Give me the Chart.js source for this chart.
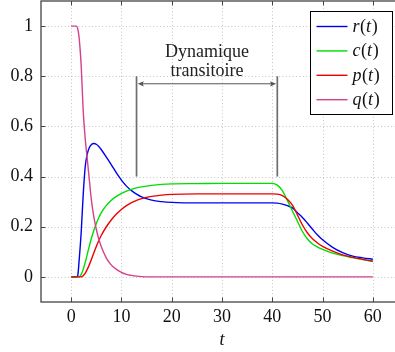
<!DOCTYPE html>
<html><head><meta charset="utf-8">
<script src="https://cdn.jsdelivr.net/npm/chart.js@4"></script>
<style>
html,body{margin:0;padding:0;background:#fff;overflow:hidden;}
#wrap{width:395px;height:352px;overflow:hidden;position:relative;}
canvas{display:block;}
</style></head><body>
<div id="wrap"><canvas id="c" width="412" height="352" style="width:412px;height:352px"></canvas></div>
<script>
// ---- data ----
const tValues = [0, 1, 1.3, 1.6, 2, 2.4, 2.8, 3.2, 3.6, 4, 4.5, 5, 5.5, 6, 7, 8, 9, 10, 11, 12, 13, 14, 16, 18, 20, 25, 30, 35, 40, 41, 42, 43, 44, 45, 46, 47, 48, 49, 50, 52, 54, 56, 58, 60];
const rValues = [0, 0, 0.005, 0.07, 0.18, 0.33, 0.44, 0.49, 0.515, 0.527, 0.532, 0.529, 0.52, 0.507, 0.478, 0.447, 0.415, 0.386, 0.362, 0.344, 0.33, 0.319, 0.306, 0.3, 0.297, 0.295, 0.295, 0.295, 0.295, 0.294, 0.29, 0.284, 0.275, 0.256, 0.237, 0.214, 0.19, 0.167, 0.148, 0.118, 0.097, 0.083, 0.076, 0.0705];
const cValues = [0, 0, 0, 0, 0.01, 0.03, 0.058, 0.09, 0.122, 0.152, 0.185, 0.213, 0.237, 0.256, 0.285, 0.306, 0.321, 0.333, 0.342, 0.349, 0.355, 0.359, 0.365, 0.369, 0.371, 0.372, 0.373, 0.373, 0.373, 0.366, 0.344, 0.305, 0.263, 0.222, 0.181, 0.151, 0.131, 0.119, 0.11, 0.095, 0.085, 0.077, 0.069, 0.0625];
const pValues = [0, 0, 0, 0, 0, 0.005, 0.015, 0.03, 0.048, 0.068, 0.095, 0.121, 0.145, 0.166, 0.2, 0.228, 0.251, 0.269, 0.284, 0.296, 0.305, 0.312, 0.321, 0.326, 0.329, 0.331, 0.331, 0.331, 0.331, 0.33, 0.324, 0.31, 0.286, 0.247, 0.207, 0.175, 0.152, 0.135, 0.122, 0.103, 0.088, 0.078, 0.07, 0.0625];
const qValues = [1, 1, 0.99, 0.95, 0.84, 0.66, 0.55, 0.47, 0.39, 0.31, 0.24, 0.19, 0.15, 0.12, 0.075, 0.047, 0.03, 0.018, 0.01, 0.006, 0.003, 0.001, 0, 0, 0, 0, 0, 0, 0, 0, 0, 0, 0, 0, 0, 0, 0, 0, 0, 0, 0, 0, 0, 0];
const seriesLabels = ['r(t)', 'c(t)', 'p(t)', 'q(t)'];
const xTicks = [0, 10, 20, 30, 40, 50, 60];
const yTicks = [0, 0.2, 0.4, 0.6, 0.8, 1];
const yTickLabels = ['0', '0.2', '0.4', '0.6', '0.8', '1'];
const xTitle = 't';
const transitionBounds = [13, 41];
const markerRange = [0.4, 0.8];
const arrowLevel = 0.77;
const annotationLines = ['Dynamique', 'transitoire'];

// ---- style ----
const colors = ['#0000f0', '#00dd00', '#ee0000', '#d6408c'];
const serif = '"Liberation Serif", "DejaVu Serif", serif';
const frameColor = '#444444';

function series(vals) { return tValues.map((t, i) => ({x: t, y: vals[i]})); }
const allValues = [rValues, cValues, pValues, qValues];

function drawMath(ctx, text, x, y) {
  for (const ch of text) {
    const italic = /[a-zA-Z]/.test(ch);
    ctx.font = (italic ? 'italic ' : '') + '18px ' + serif;
    ctx.fillText(ch, x, y);
    x += ctx.measureText(ch).width + (italic ? 0.6 : 0);
  }
}

const pgfPlugin = {
  id: 'pgf',
  beforeDatasetsDraw(chart) {
    const {ctx, chartArea: a, scales: {x, y}} = chart;
    ctx.save();
    ctx.strokeStyle = '#bcbcbc'; ctx.lineWidth = 0.9; ctx.setLineDash([1, 2.4]);
    xTicks.forEach(v => {
      const px = Math.round(x.getPixelForValue(v)) + 0.5;
      ctx.beginPath(); ctx.moveTo(px, a.top); ctx.lineTo(px, a.bottom); ctx.stroke();
    });
    yTicks.forEach(v => {
      const py = Math.round(y.getPixelForValue(v)) + 0.5;
      ctx.beginPath(); ctx.moveTo(a.left, py); ctx.lineTo(a.right, py); ctx.stroke();
    });
    ctx.setLineDash([]);
    ctx.strokeStyle = '#6e6e6e'; ctx.lineWidth = 1.7;
    const yb = y.getPixelForValue(markerRange[0]), yt = y.getPixelForValue(markerRange[1]);
    const xs = transitionBounds.map(v => x.getPixelForValue(v));
    xs.forEach(px => { ctx.beginPath(); ctx.moveTo(px, yb); ctx.lineTo(px, yt); ctx.stroke(); });
    const ya = y.getPixelForValue(arrowLevel);
    ctx.strokeStyle = '#555'; ctx.fillStyle = '#555'; ctx.lineWidth = 1;
    const x1 = xs[0] + 1.2, x2 = xs[1] - 1.2;
    ctx.beginPath(); ctx.moveTo(x1 + 4, ya); ctx.lineTo(x2 - 4, ya); ctx.stroke();
    ctx.beginPath(); ctx.moveTo(x1, ya); ctx.lineTo(x1 + 6, ya - 2.6); ctx.lineTo(x1 + 5, ya); ctx.lineTo(x1 + 6, ya + 2.6); ctx.closePath(); ctx.fill();
    ctx.beginPath(); ctx.moveTo(x2, ya); ctx.lineTo(x2 - 6, ya - 2.6); ctx.lineTo(x2 - 5, ya); ctx.lineTo(x2 - 6, ya + 2.6); ctx.closePath(); ctx.fill();
    ctx.fillStyle = '#222'; ctx.font = '18px ' + serif; ctx.textAlign = 'center'; ctx.textBaseline = 'alphabetic';
    const cx = (xs[0] + xs[1]) / 2;
    ctx.fillText(annotationLines[0], cx, yt - 19);
    ctx.fillText(annotationLines[1], cx, yt - 0.5);
    ctx.restore();
  },
  afterDatasetsDraw(chart) {
    const {ctx, chartArea: a, scales: {x, y}} = chart;
    ctx.save();
    ctx.strokeStyle = frameColor; ctx.lineWidth = 1.3;
    ctx.strokeRect(a.left, a.top, a.right - a.left, a.bottom - a.top);
    ctx.lineWidth = 1;
    xTicks.forEach(v => {
      const px = Math.round(x.getPixelForValue(v)) + 0.5;
      ctx.beginPath(); ctx.moveTo(px, a.bottom); ctx.lineTo(px, a.bottom - 4.5); ctx.stroke();
      ctx.beginPath(); ctx.moveTo(px, a.top); ctx.lineTo(px, a.top + 4.5); ctx.stroke();
    });
    yTicks.forEach(v => {
      const py = Math.round(y.getPixelForValue(v)) + 0.5;
      ctx.beginPath(); ctx.moveTo(a.left, py); ctx.lineTo(a.left + 4.5, py); ctx.stroke();
      ctx.beginPath(); ctx.moveTo(a.right, py); ctx.lineTo(a.right - 4.5, py); ctx.stroke();
    });
    const lx = a.right - 92.5, ly = a.top + 10.5, lw = 82, lh = 103;
    ctx.fillStyle = '#fff'; ctx.fillRect(lx, ly, lw, lh);
    ctx.strokeStyle = '#000'; ctx.lineWidth = 1; ctx.strokeRect(lx, ly, lw, lh);
    ctx.textAlign = 'left'; ctx.textBaseline = 'alphabetic';
    chart.data.datasets.forEach((ds, i) => {
      const yy = ly + 15 + i * 24.4;
      ctx.strokeStyle = ds.borderColor; ctx.lineWidth = ds.borderWidth;
      ctx.beginPath(); ctx.moveTo(lx + 6, yy); ctx.lineTo(lx + 37, yy); ctx.stroke();
      ctx.fillStyle = '#111';
      drawMath(ctx, ds.label, lx + 42, yy + 5.5);
    });
    ctx.restore();
  }
};

function build() {
  new Chart(document.getElementById('c'), {
    type: 'line',
    data: {
      datasets: seriesLabels.map((lab, i) => ({
        label: lab,
        data: series(allValues[i]),
        borderColor: colors[i],
        borderWidth: 1.4,
        pointRadius: 0,
        fill: false,
        cubicInterpolationMode: 'monotone',
        order: 4 - i
      }))
    },
    options: {
      responsive: false,
      animation: false,
      events: [],
      layout: {padding: {top: 1, right: 9, left: 0, bottom: 0}},
      plugins: {legend: {display: false}, tooltip: {enabled: false}},
      scales: {
        x: {
          type: 'linear', min: -6, max: 66,
          afterBuildTicks: s => { s.ticks = xTicks.map(v => ({value: v})); },
          afterFit: s => { s.height = 50; s.paddingLeft = 0; s.paddingRight = 0; },
          grid: {display: false, drawTicks: false},
          border: {display: false},
          ticks: {padding: 4, color: '#111', font: {family: serif, size: 18}, maxRotation: 0},
          title: {display: true, text: xTitle, color: '#111', font: {family: serif, size: 18, style: 'italic', lineHeight: 1.2}, padding: {top: 0, bottom: 1}}
        },
        y: {
          type: 'linear', min: -0.1, max: 1.1,
          afterBuildTicks: s => { s.ticks = yTicks.map(v => ({value: v})); },
          afterFit: s => { s.width = 41; s.paddingTop = 0; s.paddingBottom = 0; },
          grid: {display: false, drawTicks: false},
          border: {display: false},
          ticks: {padding: 8, color: '#111', font: {family: serif, size: 18},
            callback: v => { const k = yTicks.indexOf(v); return k >= 0 ? yTickLabels[k] : ''; }}
        }
      }
    },
    plugins: [pgfPlugin]
  });
}
if (document.fonts && document.fonts.load) {
  Promise.all([document.fonts.load('18px "Liberation Serif"'), document.fonts.load('italic 18px "Liberation Serif"')]).then(build, build);
} else { build(); }
</script>
</body></html>
